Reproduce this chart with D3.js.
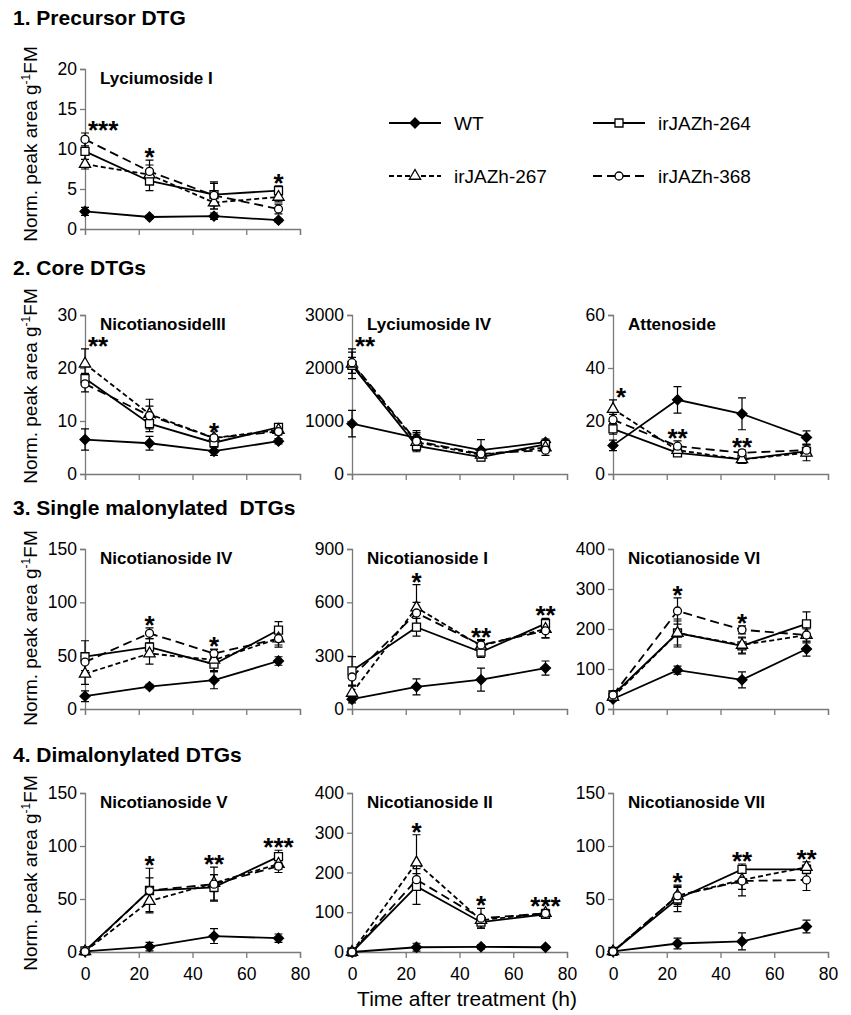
<!DOCTYPE html>
<html lang="en">
<head>
<meta charset="UTF-8">
<title>DTG time course</title>
<style>
  body { margin: 0; background: #fff; }
  text { font-family: "Liberation Sans", Arial, sans-serif; fill: #000; }
</style>
</head>
<body>
<script src="https://d3js.org/d3.v7.min.js"></script>
<script>
// sampling times (h), lines and x ticks
let times = [0, 24, 48, 72];
let lineNames = ["WT", "irJAZh-264", "irJAZh-267", "irJAZh-368"];
let xTicks = [0, 20, 40, 60, 80];

// each panel: means [WT, 264, 267, 368] x times, errors, stars per time
let lyc1Mean = [[2.2, 1.5, 1.6, 1.1], [9.7, 6.0, 4.3, 4.8], [8.1, 6.8, 3.3, 4.0], [11.2, 7.2, 4.2, 2.5]];
let lyc1Err = [[0.5, 0.2, 0.4, 0.2], [1.5, 1.2, 1.4, 0.6], [0.6, 1.2, 0.8, 0.6], [0.8, 1.4, 1.7, 0.6]];
let lyc1Stars = ["***", "*", "", "*"];

let nic3Mean = [[6.5, 5.8, 4.3, 6.2], [18.0, 9.5, 5.9, 8.8], [20.8, 11.3, 6.8, 8.3], [17.0, 11.0, 6.8, 8.0]];
let nic3Err = [[2.0, 1.3, 0.8, 0.5], [1.0, 1.5, 0.8, 0.5], [2.8, 2.8, 0.5, 0.7], [1.5, 1.8, 0.5, 0.6]];
let nic3Stars = ["**", "", "*", ""];

let lyc4Mean = [[950, 680, 450, 600], [2050, 530, 320, 560], [2080, 600, 360, 500], [2100, 620, 380, 450]];
let lyc4Err = [[250, 100, 200, 60], [150, 80, 50, 60], [280, 150, 60, 80], [200, 200, 60, 100]];
let lyc4Stars = ["**", "", "", ""];

let attMean = [[10.8, 28, 22.7, 13.8], [17, 8, 5.5, 8.5], [24.5, 9, 5.5, 8], [20.5, 10.5, 8, 9]];
let attErr = [[2, 5, 6, 2.5], [2, 1, 1, 1.5], [3.5, 1, 1, 3], [2, 2, 1, 2]];
let attStars = ["*", "**", "**", ""];

let nic4Mean = [[12, 21, 27, 45], [49, 58, 42, 74], [33, 52, 46, 66], [44, 71, 52, 66]];
let nic4Err = [[5, 2, 8, 4], [15, 8, 7, 8], [10, 10, 10, 8], [8, 5, 4, 6]];
let nic4Stars = ["", "*", "*", ""];

let nic1Mean = [[55, 125, 165, 230], [215, 460, 320, 480], [90, 570, 355, 450], [180, 540, 360, 440]];
let nic1Err = [[20, 45, 65, 40], [80, 50, 30, 30], [40, 130, 30, 50], [50, 60, 30, 40]];
let nic1Stars = ["", "*", "**", "**"];

let nic6Mean = [[25, 97, 73, 150], [35, 190, 158, 213], [30, 190, 160, 185], [35, 245, 198, 185]];
let nic6Err = [[5, 10, 20, 18], [10, 30, 20, 30], [8, 35, 20, 20], [8, 33, 10, 15]];
let nic6Stars = ["", "*", "*", ""];

let nic5Mean = [[0.5, 5, 15, 13], [1, 58, 61, 90], [0.5, 48, 65, 83], [0.5, 58, 64, 81]];
let nic5Err = [[0.5, 4, 7, 4], [1, 12, 12, 6], [0.5, 10, 8, 5], [0.5, 21, 16, 6]];
let nic5Stars = ["", "*", "**", "***"];

let nic2Mean = [[0, 12, 13, 12], [0, 165, 75, 95], [0, 225, 80, 98], [0, 182, 85, 97]];
let nic2Err = [[0, 10, 5, 3], [0, 45, 15, 10], [0, 70, 10, 8], [0, 15, 25, 10]];
let nic2Stars = ["", "*", "*", "***"];

let nic7Mean = [[0.5, 8, 10, 24], [0.5, 50, 78, 78], [0.5, 53, 68, 80], [0.5, 53, 67, 68]];
let nic7Err = [[0.5, 5, 8, 6], [0.5, 12, 2, 4], [0.5, 10, 15, 5], [0.5, 8, 8, 10]];
let nic7Stars = ["", "*", "**", "**"];

let sectionTitles = ["1. Precursor DTG", "2. Core DTGs", "3. Single malonylated  DTGs", "4. Dimalonylated DTGs"];

let panels = [
  { title: "Lyciumoside I", mean: lyc1Mean, err: lyc1Err, stars: lyc1Stars, yTicks: [0, 5, 10, 15, 20], row: 0, col: 0 },
  { title: "NicotianosideIII", mean: nic3Mean, err: nic3Err, stars: nic3Stars, yTicks: [0, 10, 20, 30], row: 1, col: 0 },
  { title: "Lyciumoside IV", mean: lyc4Mean, err: lyc4Err, stars: lyc4Stars, yTicks: [0, 1000, 2000, 3000], row: 1, col: 1 },
  { title: "Attenoside", mean: attMean, err: attErr, stars: attStars, yTicks: [0, 20, 40, 60], row: 1, col: 2 },
  { title: "Nicotianoside IV", mean: nic4Mean, err: nic4Err, stars: nic4Stars, yTicks: [0, 50, 100, 150], row: 2, col: 0 },
  { title: "Nicotianoside I", mean: nic1Mean, err: nic1Err, stars: nic1Stars, yTicks: [0, 300, 600, 900], row: 2, col: 1 },
  { title: "Nicotianoside VI", mean: nic6Mean, err: nic6Err, stars: nic6Stars, yTicks: [0, 100, 200, 300, 400], row: 2, col: 2 },
  { title: "Nicotianoside V", mean: nic5Mean, err: nic5Err, stars: nic5Stars, yTicks: [0, 50, 100, 150], row: 3, col: 0 },
  { title: "Nicotianoside II", mean: nic2Mean, err: nic2Err, stars: nic2Stars, yTicks: [0, 100, 200, 300, 400], row: 3, col: 1 },
  { title: "Nicotianoside VII", mean: nic7Mean, err: nic7Err, stars: nic7Stars, yTicks: [0, 50, 100, 150], row: 3, col: 2 }
];

// layout
let svgWidth = 851, svgHeight = 1015;
let colX = [85, 352, 613];
let plotW = 215;
let rowTop = [69, 315, 549, 793];
let rowBottom = [229, 474, 709, 952];
let sectionY = [25, 275, 515, 762];
let yLabelY = [144, 386, 628, 873];
let axisColor = "#7a7a7a";

// line styles: dash pattern and marker per line
let dashes = [null, null, "5,3", "9,5"];
let markerPath = [
  "M0,-5L5,0L0,5L-5,0Z",
  "M-4,-4H4V4H-4Z",
  d3.symbol(d3.symbolTriangle, 55)(),
  d3.symbol(d3.symbolCircle, 50)()
];
let markerFill = ["#000", "#fff", "#fff", "#fff"];

let svg = d3.select("body").append("svg")
  .attr("width", svgWidth)
  .attr("height", svgHeight);

// section headings
svg.selectAll(".section")
  .data(sectionTitles)
  .enter()
  .append("text")
  .attr("class", "section")
  .attr("x", 13)
  .attr("y", (d, i) => sectionY[i])
  .style("font-size", "21px")
  .style("font-weight", "bold")
  .style("white-space", "pre")
  .text(d => d);

// y axis labels, one per row
yLabelY.forEach(cy => {
  let t = svg.append("text")
    .attr("transform", `translate(37, ${cy}) rotate(-90)`)
    .attr("text-anchor", "middle")
    .style("font-size", "19px");
  t.append("tspan").text("Norm. peak area g");
  t.append("tspan").attr("dy", -7).style("font-size", "12px").text("-1");
  t.append("tspan").attr("dy", 7).text("FM");
});

panels.forEach(p => {
  let x0 = colX[p.col];
  let x = d3.scaleLinear().domain([0, 80]).range([x0, x0 + plotW]);
  let y = d3.scaleLinear().domain([0, d3.max(p.yTicks)]).range([rowBottom[p.row], rowTop[p.row]]);

  let g = svg.append("g");

  // axes
  let yAxis = g.append("g")
    .attr("transform", `translate(${x0},0)`)
    .call(d3.axisLeft(y).tickValues(p.yTicks).tickSize(5).tickPadding(3).tickFormat(d3.format("d")));
  let xAxis = g.append("g")
    .attr("transform", `translate(0,${rowBottom[p.row]})`)
    .call(d3.axisBottom(x).tickValues(xTicks).tickSize(6).tickPadding(10)
      .tickFormat(p.row === 3 ? d3.format("d") : ""));
  [yAxis, xAxis].forEach(a => {
    a.select(".domain").attr("stroke", axisColor).attr("stroke-width", 1.3);
    a.selectAll(".tick line").attr("stroke", axisColor).attr("stroke-width", 1.3);
    a.selectAll(".tick text").style("font-size", "17.5px").attr("fill", "#000")
      .style("font-family", '"Liberation Sans", Arial, sans-serif');
  });

  // panel title
  g.append("text")
    .attr("x", x0 + 15)
    .attr("y", rowTop[p.row] + 15)
    .style("font-size", "17px")
    .style("font-weight", "bold")
    .text(p.title);

  let lineGen = d3.line().x((d, i) => x(times[i])).y(d => y(d));

  // lines
  p.mean.forEach((vals, s) => {
    g.append("path")
      .attr("d", lineGen(vals))
      .attr("fill", "none")
      .attr("stroke", "#000")
      .attr("stroke-width", 1.8)
      .attr("stroke-dasharray", dashes[s]);
  });

  // error bars
  p.mean.forEach((vals, s) => {
    vals.forEach((v, i) => {
      let e = p.err[s][i];
      if (e <= 0) return;
      let cx = x(times[i]);
      let yHi = y(v + e), yLo = y(Math.max(0, v - e));
      g.append("path")
        .attr("d", `M${cx},${yHi}V${yLo}M${cx - 4},${yHi}H${cx + 4}M${cx - 4},${yLo}H${cx + 4}`)
        .attr("fill", "none")
        .attr("stroke", "#000")
        .attr("stroke-width", 1.2);
    });
  });

  // markers
  p.mean.forEach((vals, s) => {
    g.selectAll(null)
      .data(vals)
      .enter()
      .append("path")
      .attr("d", markerPath[s])
      .attr("transform", (d, i) => `translate(${x(times[i])},${y(d)})`)
      .attr("fill", markerFill[s])
      .attr("stroke", "#000")
      .attr("stroke-width", 1.3);
  });

  // significance stars above transgenic lines
  p.stars.forEach((st, i) => {
    if (!st) return;
    let top = d3.min([1, 2, 3], s => y(p.mean[s][i] + p.err[s][i]));
    let cy = top - 9;
    g.append("text")
      .attr("x", i === 0 ? x0 + 3 : x(times[i]))
      .attr("y", cy + 15)
      .attr("text-anchor", i === 0 ? "start" : "middle")
      .style("font-size", "26px")
      .style("font-weight", "bold")
      .text(st);
  });
});

// x axis title
svg.append("text")
  .attr("x", 467)
  .attr("y", 1006)
  .attr("text-anchor", "middle")
  .style("font-size", "21px")
  .text("Time after treatment (h)");

// legend
let legendPos = [[389, 123], [593, 123], [389, 176], [593, 176]];
lineNames.forEach((name, s) => {
  let [lx, ly] = legendPos[s];
  let lg = svg.append("g").attr("transform", `translate(${lx},${ly})`);
  lg.append("line")
    .attr("x1", 0).attr("x2", 52)
    .attr("stroke", "#000")
    .attr("stroke-width", 1.8)
    .attr("stroke-dasharray", dashes[s]);
  lg.append("path")
    .attr("d", markerPath[s])
    .attr("transform", "translate(26,0)")
    .attr("fill", markerFill[s])
    .attr("stroke", "#000")
    .attr("stroke-width", 1.3);
  lg.append("text")
    .attr("x", 65)
    .attr("y", 7)
    .style("font-size", "19px")
    .text(name);
});
</script>
</body>
</html>
